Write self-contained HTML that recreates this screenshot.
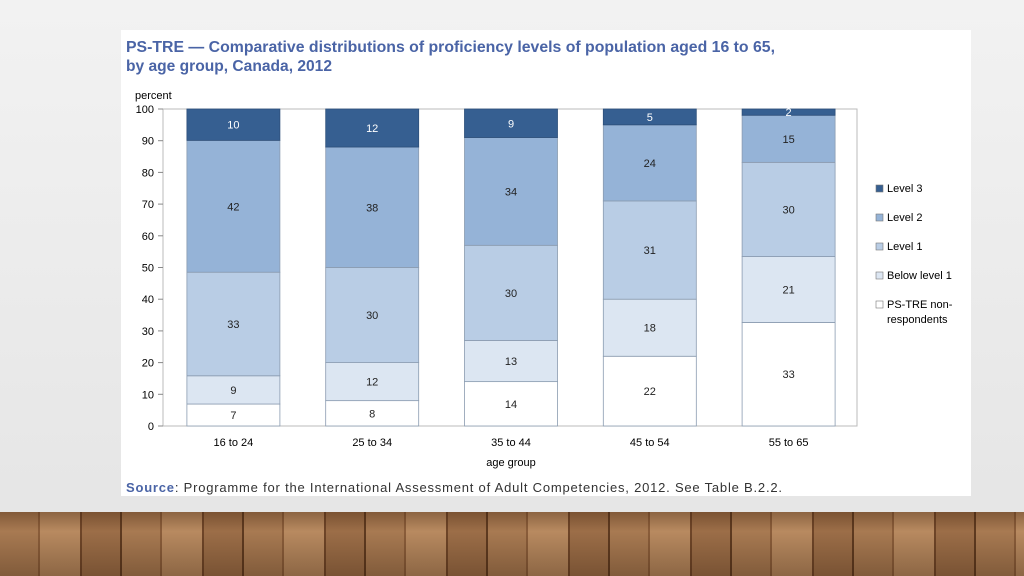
<!DOCTYPE html>
<html><head><meta charset="utf-8">
<style>
body{margin:0;width:1024px;height:576px;overflow:hidden;background:linear-gradient(#f2f2f2,#e4e4e4);font-family:"Liberation Sans",sans-serif;position:relative}
#floor{position:absolute;left:0;top:512px;width:1024px;height:64px;background:repeating-linear-gradient(90deg,#a87a52 0 38px,#8a5d3a 38px 40px,#b88a60 40px 80px,#6e4528 80px 82px,#9c6e48 82px 120px,#5e3a20 120px 122px);}
#floor:after{content:"";position:absolute;inset:0;background:linear-gradient(rgba(60,30,10,.35),rgba(255,255,255,0) 30%,rgba(40,20,5,.3));}
#panel{position:absolute;left:121px;top:30px;width:850px;height:466px;background:#fff}
</style></head><body>
<div id="floor"></div>
<div id="panel"></div>
<svg id="chart" width="1024" height="576" style="position:absolute;left:0;top:0" font-family="Liberation Sans, sans-serif">
<text x="126" y="52" font-size="16" font-weight="bold" fill="#4a64a6" textLength="649" lengthAdjust="spacingAndGlyphs">PS-TRE — Comparative distributions of proficiency levels of population aged 16 to 65,</text>
<text x="126" y="71" font-size="16" font-weight="bold" fill="#4a64a6" textLength="206" lengthAdjust="spacingAndGlyphs">by age group, Canada, 2012</text>
<text x="135" y="99" font-size="11" fill="#000">percent</text>
<text x="511" y="466" font-size="11" text-anchor="middle">age group</text>
<text x="126" y="492" font-size="13" fill="#333" textLength="656"><tspan font-weight="bold" fill="#4a64a6">Source</tspan>: Programme for the International Assessment of Adult Competencies, 2012. See Table B.2.2.</text>
<rect x="163" y="109" width="694" height="317" fill="none" stroke="#bbb"/>
<g id="g"></g>
</svg>
<script>
const categories=["16 to 24","25 to 34","35 to 44","45 to 54","55 to 65"];
const seriesNames=["PS-TRE non-respondents","Below level 1","Level 1","Level 2","Level 3"];
const nonResp=[7,8,14,22,33];
const belowL1=[9,12,13,18,21];
const level1=[33,30,30,31,30];
const level2=[42,38,34,24,15];
const level3=[10,12,9,5,2];
const yTicks=[0,10,20,30,40,50,60,70,80,90,100];
const colors=["#ffffff","#dce6f2","#b9cde5","#95b3d7","#365f91"];
const series=[nonResp,belowL1,level1,level2,level3];
const NS="http://www.w3.org/2000/svg";
const g=document.getElementById('g');
const x0=163,y0=426,h=317,w=694;
const y=v=>y0-v/100*h;
const band=w/categories.length;
const xc=i=>x0+1+band*(i+0.5);
function el(t,a){const e=document.createElementNS(NS,t);for(const k in a)e.setAttribute(k,a[k]);g.appendChild(e);return e;}
yTicks.forEach(t=>{
 const l=el('line',{x1:x0-5,x2:x0,y1:y(t),y2:y(t),stroke:'#888'});
 
 
 const tx=el('text',{x:x0-9,y:y(t)+4,'font-size':11,'text-anchor':'end'});tx.textContent=t;
 
 
});
categories.forEach((c,i)=>{
 const tx=el('text',{x:xc(i),y:446,'font-size':11,'text-anchor':'middle'});tx.textContent=c;
 
 
 let total=0;series.forEach(s=>total+=s[i]);
 let cum=0;
 series.forEach((s,k)=>{
  const v=s[i]/total*100;
  const top=y(cum+v),bot=y(cum);
  const r=el('rect',{x:xc(i)-46.5,y:top,width:93,height:bot-top,fill:colors[k],stroke:k===4?'#2d4f7a':'#8a9bb0','stroke-width':0.8});
  
  
  const lb=el('text',{x:xc(i),y:Math.min((top+bot)/2+4, k===4&&v<4?top+8:1e9),'font-size':11,'text-anchor':'middle',fill:k===4?'#fff':'#222'});
  lb.textContent=s[i];
  
  
  cum+=v;
 });
});
const legY=[189,218,247,276,305];
[4,3,2,1,0].forEach((k,j)=>{
 const r=el('rect',{x:876,y:legY[j]-4,width:7,height:7,fill:colors[k],stroke:'#777','stroke-width':0.6});
 
 
 const t=el('text',{x:887,y:legY[j]+3,'font-size':11});
 if(k===0){t.innerHTML='<tspan x="887">PS-TRE non-</tspan><tspan x="887" dy="15">respondents</tspan>';}
 else t.textContent=seriesNames[k];
 
 
});
</script>
</body></html>
